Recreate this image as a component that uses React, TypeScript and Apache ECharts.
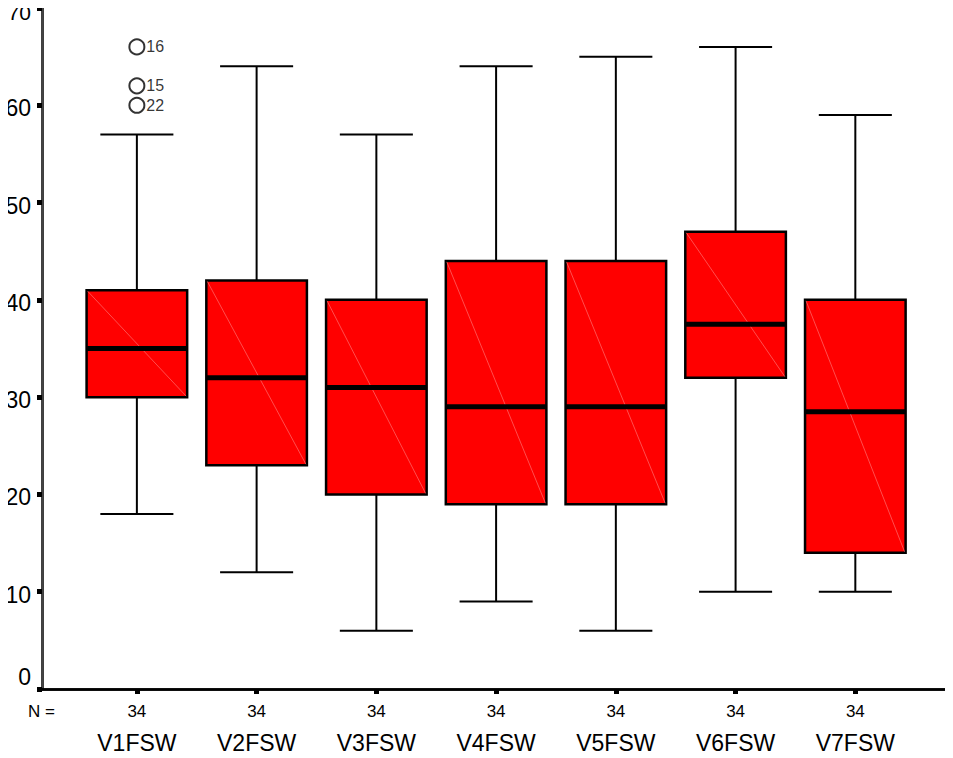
import React, { useEffect, useRef } from "react";
import * as echarts from "echarts";

const categories = ["V1FSW", "V2FSW", "V3FSW", "V4FSW", "V5FSW", "V6FSW", "V7FSW"];
const nValues = [34, 34, 34, 34, 34, 34, 34];
const lowWhisker = [18, 12, 6, 9, 6, 10, 10];
const q1Values = [30, 23, 20, 19, 19, 32, 14];
const medianValues = [35, 32, 31, 29, 29, 37.5, 28.5];
const q3Values = [41, 42, 40, 44, 44, 47, 40];
const highWhisker = [57, 64, 57, 64, 65, 66, 59];
const outlierCategory = [0, 0, 0];
const outlierValues = [66, 62, 60];
const outlierCase = ["16", "15", "22"];
const yTicks = [0, 10, 20, 30, 40, 50, 60, 70];

const FONT = "'Liberation Sans', Arial, Helvetica, sans-serif";

export default function App() {
  const ref = useRef<HTMLDivElement>(null);

  useEffect(() => {
    if (!ref.current) return;
    const chart = echarts.init(ref.current, null, { renderer: "svg" });

    const boxData = categories.map((_, i) => [
      i,
      lowWhisker[i],
      q1Values[i],
      medianValues[i],
      q3Values[i],
      highWhisker[i],
    ]);
    const outlierData = outlierValues.map((v, i) => [outlierCategory[i], v, outlierCase[i]]);
    const yMax = yTicks[yTicks.length - 1];

    const renderItem = (params: any, api: any) => {
      const idx = api.value(0);
      const band = api.size([1, 0])[0];
      const boxHalf = band * 0.42;
      const capHalf = band * 0.305;
      const pLow = api.coord([idx, api.value(1)]);
      const pQ1 = api.coord([idx, api.value(2)]);
      const pMed = api.coord([idx, api.value(3)]);
      const pQ3 = api.coord([idx, api.value(4)]);
      const pHigh = api.coord([idx, api.value(5)]);
      const cx = pLow[0];
      const lineStyle = { stroke: "#000", lineWidth: 2, fill: null };
      return {
        type: "group",
        children: [
          { type: "line", shape: { x1: cx, y1: pHigh[1], x2: cx, y2: pQ3[1] }, style: lineStyle },
          { type: "line", shape: { x1: cx, y1: pQ1[1], x2: cx, y2: pLow[1] }, style: lineStyle },
          { type: "line", shape: { x1: cx - capHalf, y1: pHigh[1], x2: cx + capHalf, y2: pHigh[1] }, style: lineStyle },
          { type: "line", shape: { x1: cx - capHalf, y1: pLow[1], x2: cx + capHalf, y2: pLow[1] }, style: lineStyle },
          {
            type: "rect",
            shape: { x: cx - boxHalf, y: pQ3[1], width: boxHalf * 2, height: pQ1[1] - pQ3[1] },
            style: { fill: "#ff0000", stroke: "#000", lineWidth: 2.5 },
          },
          {
            type: "line",
            shape: { x1: cx - boxHalf + 1, y1: pQ3[1] + 1, x2: cx + boxHalf - 1, y2: pQ1[1] - 1 },
            style: { stroke: "rgba(255,140,140,0.7)", lineWidth: 0.8 },
          },
          {
            type: "line",
            shape: { x1: cx - boxHalf, y1: pMed[1], x2: cx + boxHalf, y2: pMed[1] },
            style: { stroke: "#000", lineWidth: 5 },
          },
        ],
      };
    };

    chart.setOption({
      animation: false,
      backgroundColor: "#fff",
      textStyle: { fontFamily: FONT },
      grid: [
        { left: 42, right: 4, top: 8, bottom: 69, containLabel: false, outerBoundsMode: "none" },
        { left: 77, width: 838.2, top: 8, bottom: 69, containLabel: false, outerBoundsMode: "none" },
      ],
      xAxis: [
        {
          gridIndex: 0,
          type: "value",
          min: 0,
          max: 1,
          position: "bottom",
          axisLine: { show: true, lineStyle: { color: "#000", width: 2.5 } },
          axisTick: { show: false },
          axisLabel: { show: false },
          splitLine: { show: false },
        },
        {
          gridIndex: 0,
          type: "value",
          min: 0,
          max: 1,
          position: "top",
          axisLine: { show: true, lineStyle: { color: "#000", width: 2.5 } },
          axisTick: { show: false },
          axisLabel: { show: false },
          splitLine: { show: false },
        },
        {
          gridIndex: 1,
          type: "category",
          data: categories,
          boundaryGap: true,
          position: "bottom",
          axisLine: { show: false },
          axisTick: {
            show: true,
            alignWithLabel: true,
            length: 5,
            lineStyle: { color: "#000", width: 5 },
          },
          axisLabel: {
            show: true,
            margin: 8,
            interval: 0,
            formatter: (value: string, index: number) => `{n|${nValues[index]}}\n{c|${value}}`,
            rich: {
              n: { fontSize: 17, lineHeight: 28, color: "#000", fontFamily: FONT },
              c: { fontSize: 23, lineHeight: 36, color: "#000", fontFamily: FONT },
            },
          },
          splitLine: { show: false },
        },
      ],
      yAxis: [
        {
          gridIndex: 0,
          type: "value",
          min: 0,
          max: 70,
          interval: 10,
          position: "left",
          axisLine: { show: true, lineStyle: { color: "#000", width: 2.5 } },
          axisTick: { show: true, inside: false, length: 5, lineStyle: { color: "#000", width: 5 } },
          axisLabel: {
            show: true,
            margin: 11,
            color: "#000",
            fontSize: 23,
            fontFamily: FONT,
            formatter: (v: number) => (v === 0 ? `{z|${v}}` : v === yMax ? `{t|${v}}` : `{a|${v}}`),
            rich: {
              a: { fontSize: 23, lineHeight: 20, color: "#000", fontFamily: FONT, padding: [6, 0, 0, 0] },
              t: { fontSize: 21, lineHeight: 18, color: "#000", fontFamily: FONT, padding: [9, 0, 0, 0] },
              z: { fontSize: 23, lineHeight: 20, color: "#000", fontFamily: FONT, padding: [0, 0, 24, 0] },
            },
          },
          splitLine: { show: false },
        },
        {
          gridIndex: 0,
          type: "value",
          min: 0,
          max: 70,
          interval: 10,
          position: "right",
          axisLine: { show: true, lineStyle: { color: "#444", width: 1.2 } },
          axisTick: { show: false },
          axisLabel: { show: false },
          splitLine: { show: false },
        },
        {
          gridIndex: 1,
          type: "value",
          min: yTicks[0],
          max: yMax,
          interval: 10,
          show: false,
        },
      ],
      graphic: [
        {
          type: "text",
          left: 28,
          top: 703,
          style: { text: "N =", fontSize: 17, fill: "#000", fontFamily: FONT },
        },
      ],
      series: [
        {
          type: "custom",
          xAxisIndex: 2,
          yAxisIndex: 2,
          data: boxData,
          renderItem,
          encode: { x: 0, y: [1, 2, 3, 4, 5] },
          z: 2,
        },
        {
          type: "scatter",
          xAxisIndex: 2,
          yAxisIndex: 2,
          data: outlierData,
          symbol: "circle",
          symbolSize: 15,
          itemStyle: { color: "rgba(0,0,0,0)", borderColor: "#000", borderWidth: 2 },
          label: {
            show: true,
            position: "right",
            distance: 1,
            fontSize: 16,
            color: "#000",
            fontFamily: FONT,
            formatter: (p: any) => p.value[2],
          },
          z: 3,
        },
      ],
    });

    return () => chart.dispose();
  }, []);

  return <div ref={ref} style={{ width: 953, height: 758, marginLeft: -8, marginTop: -8 }} />;
}
